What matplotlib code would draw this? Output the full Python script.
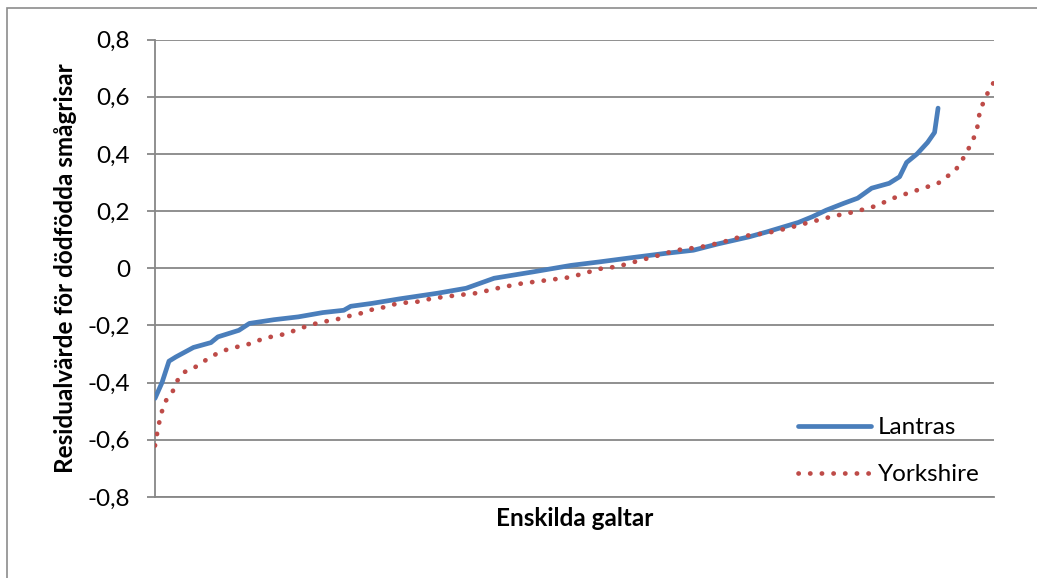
import matplotlib
matplotlib.use('Agg')
import matplotlib.pyplot as plt
from matplotlib.patches import Rectangle

plt.rcParams['font.family'] = ['Lato', 'DejaVu Sans']

# sorted residuals per galt (rank, value)
lantras_rank = [0, 2, 4, 6, 11, 16, 18, 24, 27, 34, 41, 48, 54, 56, 62, 70, 81,
                89, 97, 108, 119, 127, 137, 146, 154, 161, 170, 175, 184, 188,
                192, 197, 201, 205, 210, 213, 215, 218, 221, 223, 224]
lantras_val = [-0.455, -0.40, -0.325, -0.31, -0.277, -0.26, -0.24, -0.217,
               -0.193, -0.18, -0.17, -0.155, -0.147, -0.133, -0.123, -0.107,
               -0.087, -0.07, -0.035, -0.013, 0.01, 0.022, 0.038, 0.052, 0.063,
               0.085, 0.11, 0.127, 0.16, 0.18, 0.203, 0.227, 0.245, 0.28, 0.297,
               0.32, 0.37, 0.40, 0.44, 0.475, 0.56]

york_rank = [0, 1, 2, 3, 5, 6, 8, 11, 13, 16, 19, 22, 25, 28, 31, 34, 38, 40,
             44, 47, 50, 53, 57, 60, 63, 66, 69, 72, 76, 79, 86, 92, 99, 105,
             112, 119, 122, 128, 132, 138, 145, 149, 156, 162, 168, 175, 181,
             187, 194, 200, 206, 212, 218, 224, 229, 232, 235, 236, 239, 240]
york_val = [-0.62, -0.55, -0.50, -0.465, -0.433, -0.40, -0.365, -0.35, -0.333,
            -0.31, -0.29, -0.28, -0.27, -0.262, -0.245, -0.238, -0.228, -0.217,
            -0.20, -0.19, -0.183, -0.176, -0.162, -0.155, -0.14, -0.136, -0.124,
            -0.12, -0.116, -0.106, -0.095, -0.087, -0.067, -0.053, -0.042,
            -0.031, -0.02, 0.0, 0.005, 0.025, 0.048, 0.063, 0.074, 0.09, 0.112,
            0.123, 0.14, 0.16, 0.182, 0.197, 0.217, 0.249, 0.273, 0.297, 0.343,
            0.40, 0.476, 0.553, 0.635, 0.65]

yticks = [-0.8, -0.6, -0.4, -0.2, 0, 0.2, 0.4, 0.6, 0.8]
ytick_labels = ['-0,8', '-0,6', '-0,4', '-0,2', '0', '0,2', '0,4', '0,6', '0,8']

W, H = 1037, 578
FS = 17.5
fig = plt.figure(figsize=(W / 100, H / 100), dpi=100)
ax = fig.add_axes([155 / W, (H - 497) / H, (994 - 155) / W, (497 - 39.5) / H])

grid_c = '#878787'
ax.plot(lantras_rank, lantras_val, color='#4A7EBB', lw=3.4,
        solid_joinstyle='round', solid_capstyle='round', label='Lantras', zorder=3)
ax.plot(york_rank, york_val, color='#BE4B48', lw=3.4, linestyle=(0, (0.05, 2.42)),
        dash_capstyle='round', label='Yorkshire', zorder=4)

ax.set_xlim(0, 240)
ax.set_ylim(-0.8, 0.8)
ax.set_yticks(yticks)
ax.set_yticklabels(ytick_labels)
ax.set_xticks([])
ax.yaxis.grid(True, color=grid_c, lw=1.3)
ax.set_axisbelow(True)
for s in ['top', 'right']:
    ax.spines[s].set_visible(False)
for s in ['left', 'bottom']:
    ax.spines[s].set_color(grid_c)
    ax.spines[s].set_linewidth(1.3)
ax.tick_params(axis='y', length=6, width=1.3, color=grid_c, labelsize=FS, pad=12)

ax.set_ylabel('Residualvärde för dödfödda smågrisar', fontsize=FS,
              fontweight='bold')
ax.yaxis.set_label_coords(-0.093, 0.5)
ax.set_xlabel('Enskilda galtar', fontsize=FS, fontweight='bold')
ax.xaxis.set_label_coords(0.5, -0.022)

leg = ax.legend(loc='upper left', bbox_to_anchor=(798 / W, 1 - 417 / H),
                bbox_transform=fig.transFigure, frameon=False, fontsize=FS,
                handlelength=3.0, labelspacing=1.07, handletextpad=0.3,
                borderpad=0, borderaxespad=0)

fig.patches.append(Rectangle((7 / W, -0.05), 1.1, (H - 8.5) / H + 0.05,
                             transform=fig.transFigure, fill=False,
                             edgecolor='#8c8c8c', lw=1.2))

fig.savefig('out.png', dpi=100, facecolor='white')
